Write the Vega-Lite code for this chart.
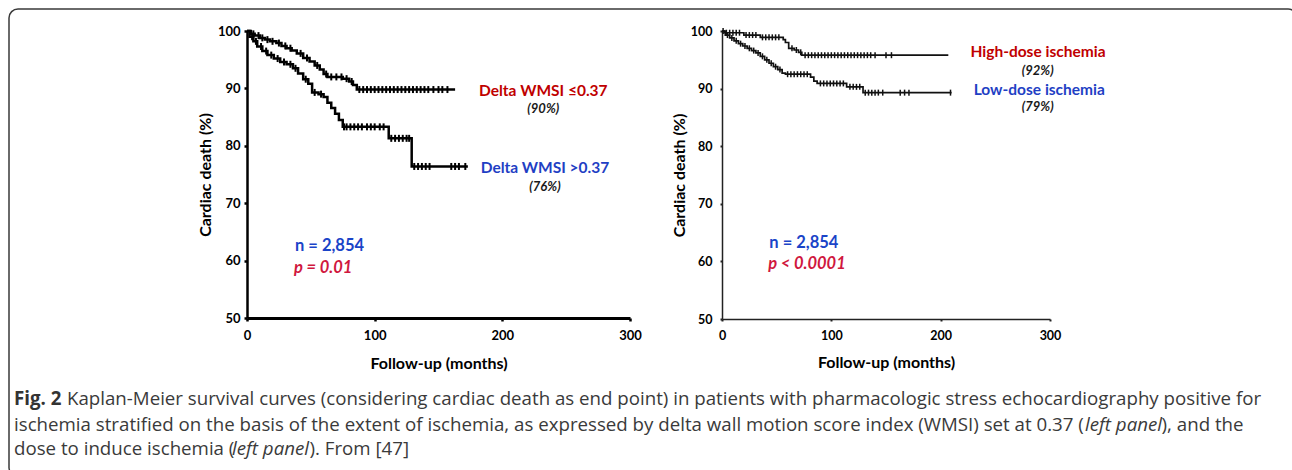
{
  "$schema": "https://vega.github.io/schema/vega-lite/v6.json",
  "padding": {"left": 8, "top": 8, "right": 0, "bottom": 0},
  "background": "white",
  "config": {"view": {"stroke": null}, "font": "Lato"},
  "datasets": {
    "border": [{"t": -186.42, "t2": 822.5, "s": 103.83, "s2": 22.3}],
    "capBold": [{"label": "Fig. 2", "t": -182.5, "s": 34.84}],
    "capNormal": [
      {"label": "Kaplan-Meier survival curves (considering cardiac death as end point) in patients with pharmacologic stress echocardiography positive for", "t": -141.0, "s": 34.84},
      {"label": "ischemia stratified on the basis of the extent of ischemia, as expressed by delta wall motion score index (WMSI) set at 0.37 (", "t": -182.5, "s": 30.31},
      {"label": "), and the", "t": 716.4, "s": 30.31},
      {"label": "dose to induce ischemia (", "t": -182.5, "s": 26.13},
      {"label": "). From [47]", "t": 48.96, "s": 26.13}
    ],
    "capItalic": [
      {"label": "left panel", "t": 656.4, "s": 30.31},
      {"label": "left panel", "t": -11.75, "s": 26.13}
    ],
    "leftKM": [
      {"group": "le", "t": 0, "s": 100}, {"group": "le", "t": 3, "s": 99.5}, {"group": "le", "t": 6, "s": 99.2}, {"group": "le", "t": 10, "s": 98.8},
      {"group": "le", "t": 14, "s": 98.5}, {"group": "le", "t": 18, "s": 98.2}, {"group": "le", "t": 23, "s": 97.9}, {"group": "le", "t": 27, "s": 97.4},
      {"group": "le", "t": 31, "s": 97.0}, {"group": "le", "t": 35, "s": 96.6}, {"group": "le", "t": 39, "s": 96.1}, {"group": "le", "t": 44, "s": 95.3},
      {"group": "le", "t": 49, "s": 94.7}, {"group": "le", "t": 53, "s": 94.0}, {"group": "le", "t": 57, "s": 93.3}, {"group": "le", "t": 60, "s": 92.5},
      {"group": "le", "t": 63, "s": 92.0}, {"group": "le", "t": 75, "s": 91.7}, {"group": "le", "t": 80, "s": 91.2}, {"group": "le", "t": 83, "s": 90.6},
      {"group": "le", "t": 86, "s": 89.8}, {"group": "le", "t": 163, "s": 89.8},
      {"group": "gt", "t": 0, "s": 100}, {"group": "gt", "t": 2, "s": 99.0}, {"group": "gt", "t": 5, "s": 98.2}, {"group": "gt", "t": 8, "s": 97.3},
      {"group": "gt", "t": 12, "s": 96.5}, {"group": "gt", "t": 16, "s": 95.8}, {"group": "gt", "t": 21, "s": 95.2}, {"group": "gt", "t": 26, "s": 94.6},
      {"group": "gt", "t": 31, "s": 94.2}, {"group": "gt", "t": 36, "s": 93.5}, {"group": "gt", "t": 40, "s": 92.6}, {"group": "gt", "t": 44, "s": 91.6},
      {"group": "gt", "t": 48, "s": 90.8}, {"group": "gt", "t": 51, "s": 89.3}, {"group": "gt", "t": 56, "s": 89.0}, {"group": "gt", "t": 60, "s": 88.5},
      {"group": "gt", "t": 63, "s": 87.5}, {"group": "gt", "t": 66, "s": 86.6}, {"group": "gt", "t": 69, "s": 85.6}, {"group": "gt", "t": 72, "s": 84.5},
      {"group": "gt", "t": 75, "s": 83.3}, {"group": "gt", "t": 111, "s": 81.3}, {"group": "gt", "t": 129, "s": 76.4}, {"group": "gt", "t": 173, "s": 76.4}
    ],
    "leftCensor": [
      {"t": 5, "s": 99.5}, {"t": 9, "s": 99.2}, {"t": 12, "s": 98.8}, {"t": 16, "s": 98.5}, {"t": 20, "s": 98.2}, {"t": 25, "s": 97.9},
      {"t": 30, "s": 97.4}, {"t": 34, "s": 97.0}, {"t": 42, "s": 96.1}, {"t": 47, "s": 95.3}, {"t": 55, "s": 94.0}, {"t": 62, "s": 92.5},
      {"t": 66, "s": 92.0}, {"t": 70, "s": 92.0}, {"t": 74, "s": 92.0}, {"t": 78, "s": 91.7}, {"t": 82, "s": 91.2},
      {"t": 88, "s": 89.8}, {"t": 91, "s": 89.8}, {"t": 94, "s": 89.8}, {"t": 97, "s": 89.8}, {"t": 100, "s": 89.8}, {"t": 103, "s": 89.8},
      {"t": 106, "s": 89.8}, {"t": 109, "s": 89.8}, {"t": 112, "s": 89.8}, {"t": 115, "s": 89.8}, {"t": 118, "s": 89.8}, {"t": 121, "s": 89.8},
      {"t": 124, "s": 89.8}, {"t": 127, "s": 89.8}, {"t": 130, "s": 89.8}, {"t": 133, "s": 89.8}, {"t": 136, "s": 89.8}, {"t": 139, "s": 89.8},
      {"t": 142, "s": 89.8}, {"t": 146, "s": 89.8}, {"t": 150, "s": 89.8}, {"t": 153, "s": 89.8}, {"t": 157, "s": 89.8},
      {"t": 4, "s": 99.0}, {"t": 7, "s": 98.2}, {"t": 11, "s": 97.3}, {"t": 15, "s": 96.5}, {"t": 19, "s": 95.8}, {"t": 24, "s": 95.2},
      {"t": 29, "s": 94.6}, {"t": 34, "s": 94.2}, {"t": 38, "s": 93.5}, {"t": 46, "s": 91.6}, {"t": 53, "s": 89.3}, {"t": 58, "s": 89.0},
      {"t": 76, "s": 83.3}, {"t": 78, "s": 83.3}, {"t": 81, "s": 83.3}, {"t": 84, "s": 83.3}, {"t": 87, "s": 83.3}, {"t": 90, "s": 83.3},
      {"t": 94, "s": 83.3}, {"t": 97, "s": 83.3}, {"t": 100, "s": 83.3}, {"t": 104, "s": 83.3}, {"t": 107, "s": 83.3},
      {"t": 113, "s": 81.3}, {"t": 116, "s": 81.3}, {"t": 119, "s": 81.3}, {"t": 122, "s": 81.3}, {"t": 125, "s": 81.3}, {"t": 127, "s": 81.3},
      {"t": 131, "s": 76.4}, {"t": 134, "s": 76.4}, {"t": 137, "s": 76.4}, {"t": 140, "s": 76.4}, {"t": 143, "s": 76.4},
      {"t": 160, "s": 76.4}, {"t": 163, "s": 76.4}, {"t": 166, "s": 76.4}, {"t": 171, "s": 76.4}
    ],
    "rightKM": [
      {"group": "hi", "t": 0, "s": 100}, {"group": "hi", "t": 2, "s": 99.7}, {"group": "hi", "t": 20, "s": 99.3}, {"group": "hi", "t": 35, "s": 98.9},
      {"group": "hi", "t": 56, "s": 98.5}, {"group": "hi", "t": 58, "s": 98.0}, {"group": "hi", "t": 61, "s": 97.0}, {"group": "hi", "t": 66, "s": 96.7},
      {"group": "hi", "t": 70, "s": 96.3}, {"group": "hi", "t": 73, "s": 95.8}, {"group": "hi", "t": 207, "s": 95.8},
      {"group": "lo", "t": 0, "s": 100}, {"group": "lo", "t": 3, "s": 99.3}, {"group": "lo", "t": 7, "s": 98.8}, {"group": "lo", "t": 11, "s": 98.3},
      {"group": "lo", "t": 15, "s": 97.8}, {"group": "lo", "t": 19, "s": 97.4}, {"group": "lo", "t": 23, "s": 97.0}, {"group": "lo", "t": 27, "s": 96.6},
      {"group": "lo", "t": 31, "s": 96.2}, {"group": "lo", "t": 35, "s": 95.6}, {"group": "lo", "t": 39, "s": 95.0}, {"group": "lo", "t": 43, "s": 94.4},
      {"group": "lo", "t": 47, "s": 93.8}, {"group": "lo", "t": 51, "s": 93.3}, {"group": "lo", "t": 55, "s": 92.7}, {"group": "lo", "t": 58, "s": 92.5},
      {"group": "lo", "t": 81, "s": 92.0}, {"group": "lo", "t": 84, "s": 91.3}, {"group": "lo", "t": 87, "s": 90.9}, {"group": "lo", "t": 114, "s": 90.3},
      {"group": "lo", "t": 129, "s": 89.3}, {"group": "lo", "t": 210, "s": 89.3}
    ],
    "rightCensor": [
      {"t": 1, "s": 100}, {"t": 4, "s": 99.7}, {"t": 7, "s": 99.7}, {"t": 10, "s": 99.7}, {"t": 13, "s": 99.7}, {"t": 16, "s": 99.7},
      {"t": 22, "s": 99.3}, {"t": 25, "s": 99.3}, {"t": 28, "s": 99.3}, {"t": 31, "s": 99.3},
      {"t": 37, "s": 98.9}, {"t": 40, "s": 98.9}, {"t": 43, "s": 98.9}, {"t": 46, "s": 98.9}, {"t": 49, "s": 98.9}, {"t": 52, "s": 98.9},
      {"t": 64, "s": 97.0}, {"t": 68, "s": 96.7}, {"t": 72, "s": 96.3},
      {"t": 76, "s": 95.8}, {"t": 79, "s": 95.8}, {"t": 82, "s": 95.8}, {"t": 85, "s": 95.8}, {"t": 88, "s": 95.8}, {"t": 91, "s": 95.8},
      {"t": 94, "s": 95.8}, {"t": 97, "s": 95.8}, {"t": 100, "s": 95.8}, {"t": 103, "s": 95.8}, {"t": 106, "s": 95.8}, {"t": 109, "s": 95.8},
      {"t": 112, "s": 95.8}, {"t": 115, "s": 95.8}, {"t": 118, "s": 95.8}, {"t": 121, "s": 95.8}, {"t": 124, "s": 95.8}, {"t": 127, "s": 95.8},
      {"t": 130, "s": 95.8}, {"t": 133, "s": 95.8}, {"t": 136, "s": 95.8}, {"t": 140, "s": 95.8}, {"t": 150, "s": 95.8}, {"t": 155, "s": 95.8},
      {"t": 5, "s": 99.3}, {"t": 9, "s": 98.8}, {"t": 13, "s": 98.3}, {"t": 17, "s": 97.8}, {"t": 21, "s": 97.4}, {"t": 25, "s": 97.0},
      {"t": 29, "s": 96.6}, {"t": 33, "s": 96.2}, {"t": 37, "s": 95.6}, {"t": 41, "s": 95.0}, {"t": 45, "s": 94.4}, {"t": 49, "s": 93.8},
      {"t": 53, "s": 93.3}, {"t": 60, "s": 92.5}, {"t": 63, "s": 92.5}, {"t": 66, "s": 92.5}, {"t": 69, "s": 92.5}, {"t": 72, "s": 92.5},
      {"t": 75, "s": 92.5}, {"t": 78, "s": 92.5}, {"t": 90, "s": 90.9}, {"t": 93, "s": 90.9}, {"t": 96, "s": 90.9}, {"t": 99, "s": 90.9},
      {"t": 102, "s": 90.9}, {"t": 105, "s": 90.9}, {"t": 108, "s": 90.9}, {"t": 111, "s": 90.9}, {"t": 117, "s": 90.3}, {"t": 120, "s": 90.3},
      {"t": 123, "s": 90.3}, {"t": 126, "s": 90.3}, {"t": 131, "s": 89.3}, {"t": 134, "s": 89.3}, {"t": 137, "s": 89.3}, {"t": 140, "s": 89.3},
      {"t": 143, "s": 89.3}, {"t": 147, "s": 89.3}, {"t": 163, "s": 89.3}, {"t": 167, "s": 89.3}, {"t": 171, "s": 89.3}, {"t": 209, "s": 89.3}
    ]
  },
  "bounds": "flush",
  "spacing": 92,
  "hconcat": [
    {
      "width": 383,
      "height": 287,
      "encoding": {
        "x": {"field": "t", "type": "quantitative", "scale": {"domain": [0, 300], "nice": false, "zero": false},
          "axis": {"title": "Follow-up (months)", "values": [0, 100, 200, 300], "grid": false, "domainColor": "black", "domainWidth": 3,
            "tickColor": "black", "tickSize": 3, "tickWidth": 2.5, "labelFont": "Lato", "labelFontSize": 13, "labelFontWeight": "bold",
            "labelColor": "black", "labelPadding": 8, "labelFlush": false, "labelOverlap": false, "titleFont": "Lato", "titleFontSize": 16,
            "titleFontWeight": "bold", "titleColor": "black", "titlePadding": 13}},
        "y": {"field": "s", "type": "quantitative", "scale": {"domain": [50, 100], "nice": false, "zero": false},
          "axis": {"title": "Cardiac death (%)", "values": [50, 60, 70, 80, 90, 100], "grid": false, "domainColor": "black", "domainWidth": 2.5,
            "tickColor": "black", "tickSize": 3, "tickWidth": 2.5, "labelFont": "Lato", "labelFontSize": 13, "labelFontWeight": "bold",
            "labelColor": "black", "labelPadding": 4, "labelFlush": false, "labelOverlap": false, "titleFont": "Lato", "titleFontSize": 16,
            "titleFontWeight": "bold", "titleColor": "black", "titlePadding": 4}}
      },
      "layer": [
        {"data": {"name": "border"}, "mark": {"type": "rect", "filled": false, "color": "#3a3a3a", "strokeWidth": 1.5, "cornerRadius": 9},
          "encoding": {"x2": {"field": "t2"}, "y2": {"field": "s2"}}},
        {"data": {"name": "capBold"}, "mark": {"type": "text", "align": "left", "baseline": "alphabetic", "font": "Open Sans", "fontSize": 18.7, "fontWeight": "bold", "color": "#333333"},
          "encoding": {"text": {"field": "label"}}},
        {"data": {"name": "capNormal"}, "mark": {"type": "text", "align": "left", "baseline": "alphabetic", "font": "Open Sans", "fontSize": 18.7, "color": "#3a3a3a"},
          "encoding": {"text": {"field": "label"}}},
        {"data": {"name": "capItalic"}, "mark": {"type": "text", "align": "left", "baseline": "alphabetic", "font": "Open Sans", "fontSize": 18.7, "fontStyle": "italic", "color": "#3a3a3a"},
          "encoding": {"text": {"field": "label"}}},
        {"data": {"name": "leftKM"}, "mark": {"type": "line", "interpolate": "step-after", "color": "black", "strokeWidth": 2.5},
          "encoding": {"detail": {"field": "group"}}},
        {"data": {"name": "leftCensor"}, "mark": {"type": "point", "shape": "M0,-1L0,1", "filled": false, "color": "black", "strokeWidth": 2, "size": 49, "opacity": 1}},
        {"data": {"values": [{"label": "Delta WMSI ≤0.37", "t": 232.1, "s": 89.6}]},
          "mark": {"type": "text", "align": "center", "baseline": "middle", "font": "Lato", "fontSize": 15.5, "fontWeight": "bold", "color": "#c00000"},
          "encoding": {"text": {"field": "label"}}},
        {"data": {"values": [{"label": "Delta WMSI >0.37", "t": 233.4, "s": 76.05}]},
          "mark": {"type": "text", "align": "center", "baseline": "middle", "font": "Lato", "fontSize": 15.5, "fontWeight": "bold", "color": "#1f3fc4"},
          "encoding": {"text": {"field": "label"}}},
        {"data": {"values": [{"label": "(90%)", "t": 232.1, "s": 86.4}, {"label": "(76%)", "t": 233.4, "s": 72.75}]},
          "mark": {"type": "text", "align": "center", "baseline": "middle", "font": "Lato", "fontSize": 13, "fontWeight": "bold", "fontStyle": "italic", "color": "#1a1a1a"},
          "encoding": {"text": {"field": "label"}}},
        {"data": {"values": [{"label": "n = 2,854", "t": 37.6, "s": 62.6}]},
          "mark": {"type": "text", "align": "left", "baseline": "middle", "font": "Lato", "fontSize": 16.5, "fontWeight": "bold", "color": "#1a44c8"},
          "encoding": {"text": {"field": "label"}}},
        {"data": {"values": [{"label": "p = 0.01", "t": 36.8, "s": 58.75}]},
          "mark": {"type": "text", "align": "left", "baseline": "middle", "font": "Lato", "fontSize": 16.5, "fontWeight": "bold", "fontStyle": "italic", "color": "#d0173e"},
          "encoding": {"text": {"field": "label"}}}
      ]
    },
    {
      "width": 328,
      "height": 288,
      "encoding": {
        "x": {"field": "t", "type": "quantitative", "scale": {"domain": [0, 300], "nice": false, "zero": false},
          "axis": {"title": "Follow-up (months)", "values": [0, 100, 200, 300], "grid": false, "domainColor": "#222222", "domainWidth": 1.5,
            "tickColor": "#222222", "tickSize": 2, "tickWidth": 2, "labelFont": "Lato", "labelFontSize": 12.5, "labelFontWeight": "bold",
            "labelColor": "black", "labelPadding": 8, "labelFlush": false, "labelOverlap": false, "titleFont": "Lato", "titleFontSize": 16,
            "titleFontWeight": "bold", "titleColor": "black", "titlePadding": 13}},
        "y": {"field": "s", "type": "quantitative", "scale": {"domain": [50, 100], "nice": false, "zero": false},
          "axis": {"title": "Cardiac death (%)", "values": [50, 60, 70, 80, 90, 100], "grid": false, "domainColor": "#222222", "domainWidth": 1.5,
            "tickColor": "#222222", "tickSize": 2, "tickWidth": 2, "labelFont": "Lato", "labelFontSize": 12.5, "labelFontWeight": "bold",
            "labelColor": "black", "labelPadding": 8, "labelFlush": false, "labelOverlap": false, "titleFont": "Lato", "titleFontSize": 16,
            "titleFontWeight": "bold", "titleColor": "black", "titlePadding": 3}}
      },
      "layer": [
        {"data": {"name": "rightKM"}, "mark": {"type": "line", "interpolate": "step-after", "color": "#111111", "strokeWidth": 1.7},
          "encoding": {"detail": {"field": "group"}}},
        {"data": {"name": "rightCensor"}, "mark": {"type": "point", "shape": "M0,-1L0,1", "filled": false, "color": "#111111", "strokeWidth": 1.5, "size": 36, "opacity": 1}},
        {"data": {"values": [{"label": "High-dose ischemia", "t": 289.0, "s": 96.3}]},
          "mark": {"type": "text", "align": "center", "baseline": "middle", "font": "Lato", "fontSize": 15.5, "fontWeight": "bold", "color": "#c00000"},
          "encoding": {"text": {"field": "label"}}},
        {"data": {"values": [{"label": "Low-dose ischemia", "t": 290.2, "s": 89.76}]},
          "mark": {"type": "text", "align": "center", "baseline": "middle", "font": "Lato", "fontSize": 15.5, "fontWeight": "bold", "color": "#1f3fc4"},
          "encoding": {"text": {"field": "label"}}},
        {"data": {"values": [{"label": "(92%)", "t": 288.8, "s": 93.06}, {"label": "(79%)", "t": 288.8, "s": 86.81}]},
          "mark": {"type": "text", "align": "center", "baseline": "middle", "font": "Lato", "fontSize": 13, "fontWeight": "bold", "fontStyle": "italic", "color": "#1a1a1a"},
          "encoding": {"text": {"field": "label"}}},
        {"data": {"values": [{"label": "n = 2,854", "t": 43.3, "s": 63.14}]},
          "mark": {"type": "text", "align": "left", "baseline": "middle", "font": "Lato", "fontSize": 16.5, "fontWeight": "bold", "color": "#1a44c8"},
          "encoding": {"text": {"field": "label"}}},
        {"data": {"values": [{"label": "p < 0.0001", "t": 42.3, "s": 59.51}]},
          "mark": {"type": "text", "align": "left", "baseline": "middle", "font": "Lato", "fontSize": 16.5, "fontWeight": "bold", "fontStyle": "italic", "color": "#d0173e"},
          "encoding": {"text": {"field": "label"}}}
      ]
    }
  ]
}
